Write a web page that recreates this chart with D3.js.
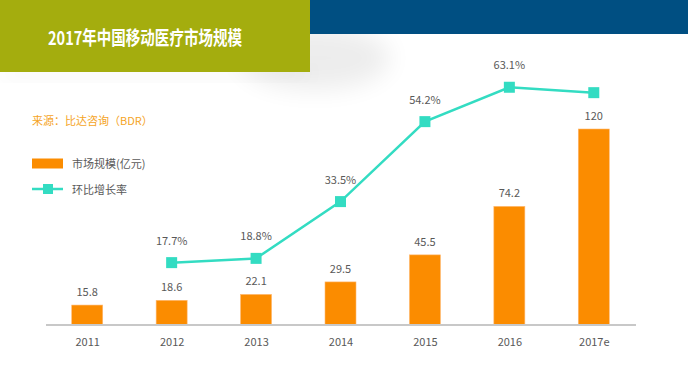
<!DOCTYPE html>
<html>
<head>
<meta charset="utf-8">
<script src="https://cdn.jsdelivr.net/npm/d3@7"></script>
<style>
  body { margin: 0; background: #fff; }
  svg { display: block; font-family: "Noto Sans CJK SC", "Noto Sans", sans-serif; }
</style>
</head>
<body>
<svg id="chart" width="688" height="374"></svg>
<script>
// 数据
var years = ['2011', '2012', '2013', '2014', '2015', '2016', '2017e'];
var marketSize = [15.8, 18.6, 22.1, 29.5, 45.5, 74.2, 120];
var growth = [null, 17.7, 18.8, 33.5, 54.2, 63.1, 61.7];
var growthLabels = ['', '17.7%', '18.8%', '33.5%', '54.2%', '63.1%', ''];

var barColor = '#fb8c00';
var lineColor = '#33dcc2';
var textColor = '#595959';

var svg = d3.select('#chart');
var defs = svg.append('defs');

// Schatten
var blur = defs.append('filter').attr('id', 'blur')
  .attr('x', '-50%').attr('y', '-50%').attr('width', '200%').attr('height', '200%');
blur.append('feGaussianBlur').attr('stdDeviation', 12);

svg.append('ellipse')
  .attr('cx', 315).attr('cy', 58).attr('rx', 75).attr('ry', 32)
  .attr('fill', '#000').attr('opacity', 0.07)
  .attr('filter', 'url(#blur)');
svg.append('rect')
  .attr('x', 0).attr('y', 68).attr('width', 310).attr('height', 10)
  .attr('fill', '#000').attr('opacity', 0.05)
  .attr('filter', 'url(#blur)');

// Kopfbereich
svg.append('rect')
  .attr('x', 310).attr('y', 0).attr('width', 378).attr('height', 34)
  .attr('fill', '#004f82');
svg.append('rect')
  .attr('x', 0).attr('y', 0).attr('width', 310).attr('height', 72)
  .attr('fill', '#a4ad0e');

svg.append('text')
  .attr('x', 48).attr('y', 45)
  .attr('textLength', 194).attr('lengthAdjust', 'spacingAndGlyphs')
  .attr('fill', '#fff').attr('font-size', 19).attr('font-weight', 'bold')
  .text('2017年中国移动医疗市场规模');

// Quelle
svg.append('text')
  .attr('x', 32).attr('y', 125)
  .attr('fill', '#f5a41e').attr('font-size', 11)
  .text('来源：比达咨询（BDR）');

// Legende
svg.append('rect')
  .attr('x', 32).attr('y', 158.5).attr('width', 31).attr('height', 10)
  .attr('fill', barColor);
svg.append('text')
  .attr('x', 72).attr('y', 167.5)
  .attr('fill', textColor).attr('font-size', 11)
  .text('市场规模(亿元)');
svg.append('line')
  .attr('x1', 32).attr('x2', 63).attr('y1', 189).attr('y2', 189)
  .attr('stroke', lineColor).attr('stroke-width', 2.5);
svg.append('rect')
  .attr('x', 43).attr('y', 184).attr('width', 10).attr('height', 10)
  .attr('fill', lineColor);
svg.append('text')
  .attr('x', 72).attr('y', 193.5)
  .attr('fill', textColor).attr('font-size', 11)
  .text('环比增长率');

// Skalen
var x = d3.scalePoint().domain(years).range([45, 636]).padding(0.5);
var barW = 31;
var yBar = d3.scaleLinear().domain([4, 120]).range([325, 129]);
var yLine = d3.scaleLinear().domain([0, 70]).range([331, 60.6]);

// Balken
svg.selectAll('.bar')
  .data(marketSize)
  .join('rect')
  .attr('class', 'bar')
  .attr('x', function(d, i) { return x(years[i]) - barW / 2; })
  .attr('y', function(d) { return yBar(d); })
  .attr('width', barW)
  .attr('height', function(d) { return 325 - yBar(d); })
  .attr('fill', barColor)
  .attr('stroke', '#ffb870').attr('stroke-width', 0.6);

svg.selectAll('.bar-label')
  .data(marketSize)
  .join('text')
  .attr('class', 'bar-label')
  .attr('x', function(d, i) { return x(years[i]); })
  .attr('y', function(d) { return yBar(d) - 9; })
  .attr('text-anchor', 'middle')
  .attr('fill', textColor).attr('font-size', 11)
  .text(function(d) { return d; });

// Achse
var axis = svg.append('g')
  .attr('transform', 'translate(0,325)')
  .call(d3.axisBottom(x).tickSize(0).tickPadding(13));
axis.select('.domain')
  .attr('d', 'M46,0H636')
  .attr('stroke', '#c8c8c8').attr('stroke-width', 2);
axis.selectAll('text')
  .attr('fill', textColor).attr('font-size', 11)
  .attr('font-family', '"Noto Sans CJK SC", "Noto Sans", sans-serif');

// Linie
var pts = growth.map(function(d, i) { return { year: years[i], v: d, label: growthLabels[i] }; })
  .filter(function(d) { return d.v !== null; });

var line = d3.line()
  .x(function(d) { return x(d.year); })
  .y(function(d) { return yLine(d.v); });

svg.append('path')
  .datum(pts)
  .attr('d', line)
  .attr('fill', 'none')
  .attr('stroke', lineColor).attr('stroke-width', 2.5);

svg.selectAll('.marker')
  .data(pts)
  .join('rect')
  .attr('class', 'marker')
  .attr('x', function(d) { return x(d.year) - 5.5; })
  .attr('y', function(d) { return yLine(d.v) - 5.5; })
  .attr('width', 11).attr('height', 11)
  .attr('fill', lineColor);

svg.selectAll('.line-label')
  .data(pts)
  .join('text')
  .attr('class', 'line-label')
  .attr('x', function(d) { return x(d.year); })
  .attr('y', function(d) { return yLine(d.v) - 18; })
  .attr('text-anchor', 'middle')
  .attr('fill', textColor).attr('font-size', 11)
  .text(function(d) { return d.label; });
</script>
</body>
</html>
